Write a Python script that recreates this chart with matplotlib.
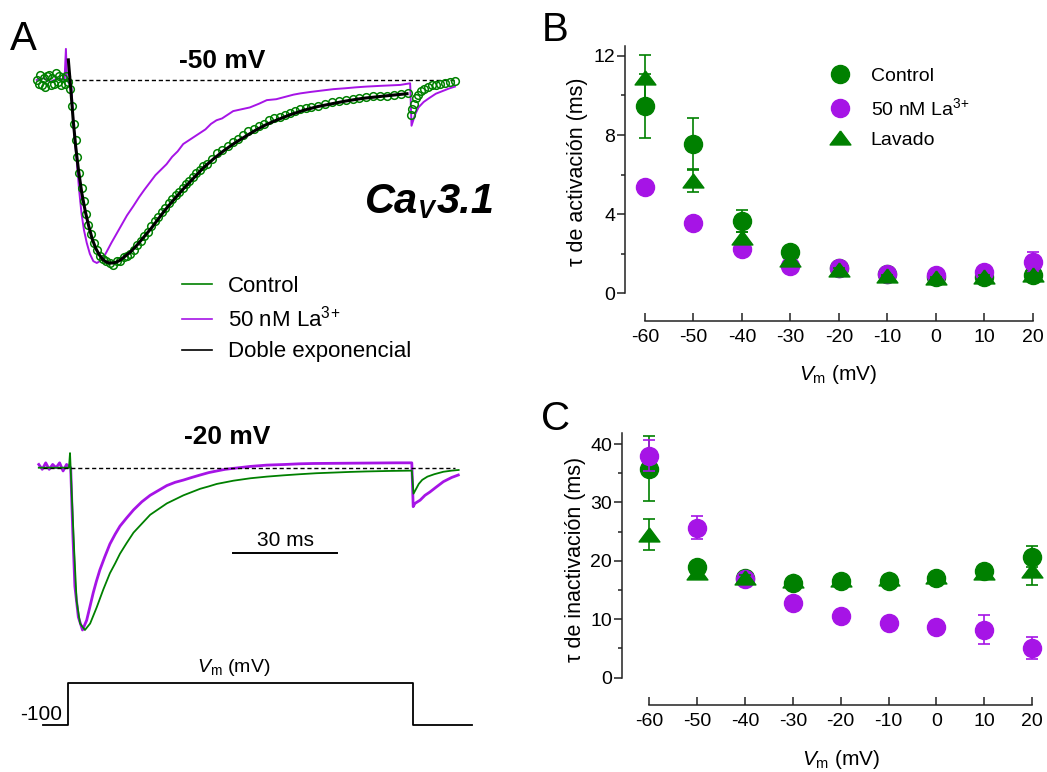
import numpy as np
import matplotlib
matplotlib.use("Agg")
import matplotlib.pyplot as plt
from matplotlib.lines import Line2D

plt.rcParams['font.family'] = ['Liberation Sans', 'DejaVu Sans']
plt.rcParams['mathtext.fontset'] = 'custom'
plt.rcParams['mathtext.rm'] = 'Liberation Sans'
plt.rcParams['mathtext.it'] = 'Liberation Sans:italic'
plt.rcParams['mathtext.bf'] = 'Liberation Sans:bold'
plt.rcParams['axes.unicode_minus'] = False

GREEN = '#008000'
PURPLE = '#a614e6'

# ---------------- Panel A data (time in ms, normalized current) ----------------
# -50 mV, control (open circles)
t50_ctrl = [-9.0, -8.5, -8.0, -7.5, -7.0, -6.5, -6.0, -5.5, -5.0, -4.5, -4.0, -3.5, -3.0, -2.5,
            -2.0, -1.5, -1.0, -0.5, 0.0,
            0.6, 1.2, 1.7, 2.2, 2.7, 3.3, 3.9, 4.5, 5.2, 5.9, 6.6, 7.4, 8.3, 9.2, 10.1, 11.0,
            12.0, 13.0, 14.0, 15.0, 16.0, 17.0, 18.0, 19.0, 20.0, 21.0, 22.0, 23.0, 24.0, 25.0,
            26.0, 27.0, 28.0, 29.0, 30.0, 31.0, 32.0, 33.0, 34.0, 35.0, 36.0, 37.0, 38.0, 39.0,
            40.0, 41.5, 43.0, 44.5, 46.0, 47.5, 49.0, 50.5, 52.0, 53.5, 55.0, 56.5, 58.0, 59.5,
            61.0, 62.5, 64.0, 65.5, 67.0, 68.5, 70.0, 72.0, 74.0, 76.0, 78.0, 80.0, 82.0, 84.0,
            86.0, 88.0, 90.0, 92.0, 94.0, 96.0, 98.0,
            98.8, 99.2, 99.7, 100.3, 101.0, 101.8, 102.7, 103.7, 104.8, 106.0, 107.3, 108.6,
            110.0, 111.4]
i50_ctrl = [0.00, -0.02, 0.03, -0.03, 0.01, -0.04, 0.02, 0.03, -0.03, 0.01, -0.02, 0.04, -0.01,
            0.02, -0.03, 0.01, -0.02, 0.02, -0.01,
            -0.05, -0.14, -0.24, -0.33, -0.42, -0.51, -0.59, -0.66, -0.73, -0.79, -0.84, -0.89,
            -0.93, -0.96, -0.98, -0.99, -1.00, -1.01, -0.99, -0.99, -0.97, -0.96, -0.95, -0.93,
            -0.90, -0.88, -0.85, -0.83, -0.80, -0.77, -0.75, -0.72, -0.70, -0.67, -0.65, -0.63,
            -0.61, -0.59, -0.57, -0.55, -0.53, -0.51, -0.49, -0.47, -0.46, -0.43, -0.40, -0.38,
            -0.36, -0.34, -0.32, -0.30, -0.28, -0.27, -0.25, -0.24, -0.22, -0.21, -0.20, -0.19,
            -0.18, -0.17, -0.16, -0.155, -0.15, -0.14, -0.13, -0.12, -0.115, -0.11, -0.105, -0.10,
            -0.095, -0.09, -0.09, -0.085, -0.08, -0.075, -0.07,
            -0.19, -0.16, -0.13, -0.10, -0.08, -0.06, -0.05, -0.04, -0.03, -0.025, -0.02, -0.015,
            -0.01, -0.005]

# -50 mV, 50 nM La3+
t50_la = [-9.0, -7.0, -5.0, -3.0, -1.0, -0.6, -0.3, 1.0, 1.6, 2.5, 3.2, 3.9, 4.6, 5.4, 6.3,
          7.3, 8.3, 9.2, 10.2, 11.1, 12.5, 14.0, 15.5, 17.0, 18.8, 20.5, 22.0, 23.6, 25.2, 26.8,
          28.4, 30.0, 31.6, 33.2, 34.8, 36.4, 38.0, 39.6, 41.2, 42.8, 44.4, 46.0, 47.6, 50.0,
          52.4, 55.0, 57.3, 60.0, 62.0, 65.0, 67.0, 70.0, 73.0, 76.5, 80.0, 83.0, 86.0, 90.0,
          95.7, 98.6, 99.0, 100.0, 101.0, 102.5, 104.0, 106.0, 108.0, 110.0, 111.5]
i50_la = [0.00, 0.01, -0.01, 0.01, 0.00, 0.17, 0.00, -0.04, -0.25, -0.44, -0.60, -0.73, -0.82,
          -0.89, -0.95, -0.99, -1.00, -0.99, -0.97, -0.94, -0.89, -0.84, -0.79, -0.74, -0.69,
          -0.64, -0.60, -0.56, -0.52, -0.49, -0.46, -0.42, -0.39, -0.35, -0.33, -0.31, -0.29,
          -0.27, -0.24, -0.22, -0.21, -0.19, -0.17, -0.16, -0.15, -0.13, -0.11, -0.105, -0.095,
          -0.08, -0.073, -0.065, -0.058, -0.05, -0.045, -0.04, -0.036, -0.032, -0.027, -0.018,
          -0.25, -0.19, -0.15, -0.12, -0.10, -0.075, -0.06, -0.045, -0.036]

# -50 mV, double exponential fit
t50_fit = [0.1, 0.8, 1.5, 2.2, 3.0, 4.0, 5.0, 6.0, 7.0, 8.0, 9.0, 10.0, 11.0, 12.0, 13.0, 14.0,
           15.0, 16.0, 17.0, 18.0, 20.0, 22.0, 24.0, 26.0, 28.0, 30.0, 33.0, 36.0, 39.0, 42.0,
           45.0, 48.0, 51.0, 54.0, 57.0, 60.0, 64.0, 68.0, 72.0, 76.0, 80.0, 85.0, 90.0, 95.0, 97.7]
i50_fit = [0.11, -0.05, -0.22, -0.36, -0.49, -0.62, -0.72, -0.80, -0.87, -0.92, -0.955, -0.98,
           -0.995, -1.00, -1.00, -0.995, -0.985, -0.97, -0.955, -0.94, -0.90, -0.855, -0.81,
           -0.76, -0.71, -0.665, -0.60, -0.54, -0.48, -0.43, -0.385, -0.345, -0.31, -0.275,
           -0.245, -0.22, -0.19, -0.165, -0.145, -0.13, -0.115, -0.10, -0.09, -0.08, -0.075]

# -20 mV, control
t20_ctrl = [-9.0, -0.3, 0.0, 0.5, 1.2, 1.9, 2.9, 4.3, 5.8, 7.7, 9.6, 11.5, 13.0, 14.4, 16.3,
            18.3, 20.7, 23.1, 25.5, 27.9, 30.3, 32.7, 35.1, 37.5, 40.0, 42.3, 44.7, 47.1, 52.0,
            56.7, 61.5, 66.3, 71.0, 75.9, 80.7, 85.5, 92.0, 98.5, 99.0, 99.5, 100.5, 101.5,
            103.0, 105.0, 107.6, 110.0, 112.0]
i20_ctrl = [0.0, 0.0, 0.09, -0.16, -0.51, -0.82, -0.96, -1.00, -0.96, -0.86, -0.75, -0.65,
            -0.59, -0.53, -0.465, -0.40, -0.345, -0.29, -0.255, -0.22, -0.195, -0.17, -0.15,
            -0.13, -0.115, -0.10, -0.09, -0.08, -0.065, -0.055, -0.047, -0.04, -0.034, -0.03,
            -0.026, -0.023, -0.02, -0.018, -0.16, -0.14, -0.10, -0.075, -0.055, -0.04, -0.025,
            -0.018, -0.014]

# -20 mV, 50 nM La3+
t20_la = [-9.0, -8.0, -7.0, -6.0, -5.0, -4.0, -3.0, -2.0, -1.0, 0.2, 0.8, 1.4, 2.4, 3.6, 4.8,
          5.7, 6.7, 7.6, 8.6, 10.0, 11.5, 13.0, 14.4, 16.3, 18.3, 20.7, 23.1, 25.5, 27.9, 30.3,
          32.7, 35.1, 37.5, 40.0, 42.3, 44.7, 47.1, 52.0, 56.7, 62.0, 66.0, 70.0, 76.0, 82.0,
          88.0, 94.0, 98.5, 98.9, 99.4, 100.9, 102.3, 103.7, 105.5, 107.6, 110.0, 111.9]
i20_la = [0.02, -0.01, 0.03, -0.01, 0.02, 0.0, 0.03, -0.02, 0.02, 0.0, -0.40, -0.73, -0.92,
          -1.00, -0.94, -0.86, -0.77, -0.70, -0.63, -0.55, -0.47, -0.41, -0.36, -0.31, -0.26,
          -0.21, -0.17, -0.14, -0.11, -0.09, -0.076, -0.06, -0.045, -0.03, -0.02, -0.01,
          -0.004, 0.008, 0.016, 0.02, 0.024, 0.026, 0.027, 0.028, 0.029, 0.03, 0.03, -0.24,
          -0.22, -0.20, -0.17, -0.15, -0.12, -0.086, -0.06, -0.045]

# voltage protocol
t_prot = [-7.7, -0.5, -0.5, 98.9, 98.9, 115.8]
v_prot = [-100, -100, -20, -20, -100, -100]

# ---------------- Panels B and C data ----------------
vm = [-60, -50, -40, -30, -20, -10, 0, 10, 20]
act_ctrl = [9.47, 7.53, 3.66, 2.07, 1.30, 0.98, 0.84, 0.84, 0.93]
act_ctrl_err = [1.60, 1.32, 0.55, 0.15, 0.10, 0.08, 0.06, 0.08, 0.10]
act_la = [5.39, 3.57, 2.22, 1.40, 1.26, 0.98, 0.93, 1.10, 1.57]
act_la_err = [0.15, 0.12, 0.10, 0.08, 0.08, 0.06, 0.06, 0.10, 0.50]
act_wash = [10.87, 5.70, 2.80, 1.69, 1.18, 0.88, 0.76, 0.84, 0.93]
act_wash_err = [1.18, 0.56, 0.30, 0.10, 0.08, 0.06, 0.06, 0.08, 0.10]

inact_ctrl = [35.8, 18.9, 17.0, 16.2, 16.5, 16.6, 17.1, 18.3, 20.7]
inact_ctrl_err = [5.6, 0.8, 0.5, 0.6, 0.5, 0.5, 0.6, 0.7, 1.8]
inact_la = [38.0, 25.7, 16.9, 12.7, 10.5, 9.3, 8.6, 8.2, 5.1]
inact_la_err = [2.7, 2.0, 0.5, 0.5, 0.5, 0.5, 0.5, 2.5, 1.9]
inact_wash = [24.5, 18.0, 17.0, 16.5, 16.7, 16.9, 17.3, 17.9, 18.2]
inact_wash_err = [2.6, 0.8, 0.6, 0.6, 0.6, 0.6, 0.6, 0.6, 2.4]

legend_labels = ['Control', r'50 nM La$^{3\!+}$', 'Lavado']

# ---------------- figure ----------------
W, H = 1047, 772
fig = plt.figure(figsize=(W / 100, H / 100), dpi=100)


def fx(x):
    return x / W


def fy(y):
    return 1 - y / H


def px_axes(x0, y0, x1, y1):
    return fig.add_axes([fx(x0), fy(y1), (x1 - x0) / W, (y1 - y0) / H])


# ---- Panel A top (-50 mV) ----
ax1 = px_axes(30, 40, 470, 280)
ax1.set_xlim(-10.95, 115.85)
ax1.set_ylim(-1.093, 0.2186)
ax1.axis('off')
ax1.plot([0, 111.5], [0, 0], color='black', lw=1.0, ls=(0, (3, 2)), zorder=1)
ax1.plot(t50_la, i50_la, color=PURPLE, lw=1.4, zorder=2)
ax1.plot(t50_ctrl, i50_ctrl, ls='none', marker='o', ms=5.5, mfc='none', mec=GREEN, mew=1.1,
         zorder=3)
ax1.plot(t50_fit, i50_fit, color='black', lw=2.2, zorder=4)

leg_handles = [Line2D([], [], color=GREEN, lw=1.2),
               Line2D([], [], color=PURPLE, lw=1.2),
               Line2D([], [], color='black', lw=1.2)]
ax1.legend(leg_handles, ['Control', r'50 nM La$^{3\!+}$', 'Doble exponencial'],
           loc='center left', bbox_to_anchor=(fx(182), fy(319)), bbox_transform=fig.transFigure,
           frameon=False, fontsize=16, handlelength=1.35, handletextpad=0.72,
           labelspacing=0.42, borderpad=0, borderaxespad=0)

# ---- Panel A bottom (-20 mV) ----
ax2 = px_axes(30, 440, 470, 650)
ax2.set_xlim(-11.53, 115.27)
ax2.set_ylim(-1.1232, 0.1707)
ax2.axis('off')
ax2.plot([-7.7, 111.0], [0, 0], color='black', lw=1.0, ls=(0, (3, 2)), zorder=3)
ax2.plot(t20_la, i20_la, color=PURPLE, lw=2.0, zorder=1)
ax2.plot(t20_ctrl, i20_ctrl, color=GREEN, lw=1.3, zorder=2)
ax2.plot([47.06, 77.06], [-0.527, -0.527], color='black', lw=1.4)
ax2.text(62.06, -0.48, '30 ms', ha='center', va='baseline', fontsize=15)

# ---- protocol ----
ax3 = px_axes(30, 660, 480, 740)
ax3.set_xlim(-11.53, 118.16)
ax3.set_ylim(-128.4, 22.9)
ax3.axis('off')
ax3.plot(t_prot, v_prot, color='black', lw=1.3)

fig.text(fx(234), fy(671.7), r'$V_\mathrm{m}$ (mV)', ha='center', va='baseline', fontsize=14)
fig.text(fx(62.5), fy(720), '-100', ha='right', va='baseline', fontsize=15)

# titles & labels in A
fig.text(fx(222), fy(68.3), '-50 mV', ha='center', va='baseline', fontsize=19, fontweight='bold')
fig.text(fx(226.7), fy(444), '-20 mV', ha='center', va='baseline', fontsize=19, fontweight='bold')
fig.text(fx(365), fy(213), 'Ca', ha='left', va='baseline', fontsize=30, fontweight='bold',
         fontstyle='italic')
fig.text(fx(418), fy(218), 'V', ha='left', va='baseline', fontsize=18, fontweight='bold',
         fontstyle='italic')
fig.text(fx(437), fy(213), '3.1', ha='left', va='baseline', fontsize=30, fontweight='bold',
         fontstyle='italic')

fig.text(fx(10), fy(50), 'A', ha='left', va='baseline', fontsize=29)
fig.text(fx(542), fy(41), 'B', ha='left', va='baseline', fontsize=29)
fig.text(fx(541), fy(430), 'C', ha='left', va='baseline', fontsize=29)

# triangle marker (wider than tall)
tri = [(0, 0.72), (-1, -0.62), (1, -0.62), (0, 0.72)]


def style_axes(ax, ybounds, yticks, yminor):
    for s in ['top', 'right']:
        ax.spines[s].set_visible(False)
    ax.spines['left'].set_bounds(*ybounds)
    ax.spines['bottom'].set_bounds(-60, 20)
    for s in ['left', 'bottom']:
        ax.spines[s].set_linewidth(1.1)
        ax.spines[s].set_color('#222222')
    ax.set_xticks(vm)
    ax.set_yticks(yticks)
    ax.set_yticks(yminor, minor=True)
    ax.tick_params(axis='x', direction='in', length=5.5, width=1.1, pad=6, labelsize=14,
                   color='#222222')
    ax.tick_params(axis='y', which='major', direction='out', length=5.5, width=1.1, pad=1.5,
                   labelsize=14, color='#222222')
    ax.tick_params(axis='y', which='minor', direction='out', length=3, width=1.1, color='#222222')


def plot_series(ax, c, ce, l, le, w, we):
    kw = dict(capsize=4.5, elinewidth=1.2, capthick=1.2, ls='none', clip_on=False)
    e1 = ax.errorbar(vm, c, yerr=ce, marker='o', ms=13, color=GREEN, zorder=3, **kw)
    e2 = ax.errorbar(vm, l, yerr=le, marker='o', ms=13, color=PURPLE, zorder=4, **kw)
    e3 = ax.errorbar(vm, w, yerr=we, marker=tri, ms=15, color=GREEN, zorder=5, **kw)
    for e in (e1, e2, e3):
        for art in e.lines[1] + e.lines[2]:
            art.set_clip_on(False)


# ---- Panel B ----
axB = px_axes(625, 44, 1044.8, 320.7)
axB.set_xlim(-64.1, 22.5)
axB.set_ylim(-1.385, 12.6)
style_axes(axB, (0, 12.5), [0, 4, 8, 12], [2, 6, 10])
plot_series(axB, act_ctrl, act_ctrl_err, act_la, act_la_err, act_wash, act_wash_err)
hB = [Line2D([], [], ls='none', marker='o', ms=13, color=GREEN),
      Line2D([], [], ls='none', marker='o', ms=13, color=PURPLE),
      Line2D([], [], ls='none', marker=tri, ms=15, color=GREEN)]
axB.legend(hB, legend_labels, loc='center left', bbox_to_anchor=(fx(830), fy(108)),
           bbox_transform=fig.transFigure, frameon=False, fontsize=14, handlelength=1.0,
           handletextpad=1.1, labelspacing=0.62, borderpad=0, borderaxespad=0)
fig.text(fx(578), fy(172), r'τ de activación (ms)', rotation=90, ha='center', va='center',
         fontsize=15.5)
fig.text(fx(838), fy(380), r'$V_\mathrm{m}$ (mV)', ha='center', va='baseline', fontsize=15)

# ---- Panel C ----
axC = px_axes(621.7, 430, 1044.3, 705)
axC.set_xlim(-65.7, 22.5)
axC.set_ylim(-4.68, 42.4)
style_axes(axC, (0, 41.9), [0, 10, 20, 30, 40], [5, 15, 25, 35])
plot_series(axC, inact_ctrl, inact_ctrl_err, inact_la, inact_la_err, inact_wash, inact_wash_err)
fig.text(fx(575), fy(559), r'τ de inactivación (ms)', rotation=90, ha='center', va='center',
         fontsize=15.5)
fig.text(fx(841), fy(765), r'$V_\mathrm{m}$ (mV)', ha='center', va='baseline', fontsize=15)

fig.savefig('out.png', dpi=100)
